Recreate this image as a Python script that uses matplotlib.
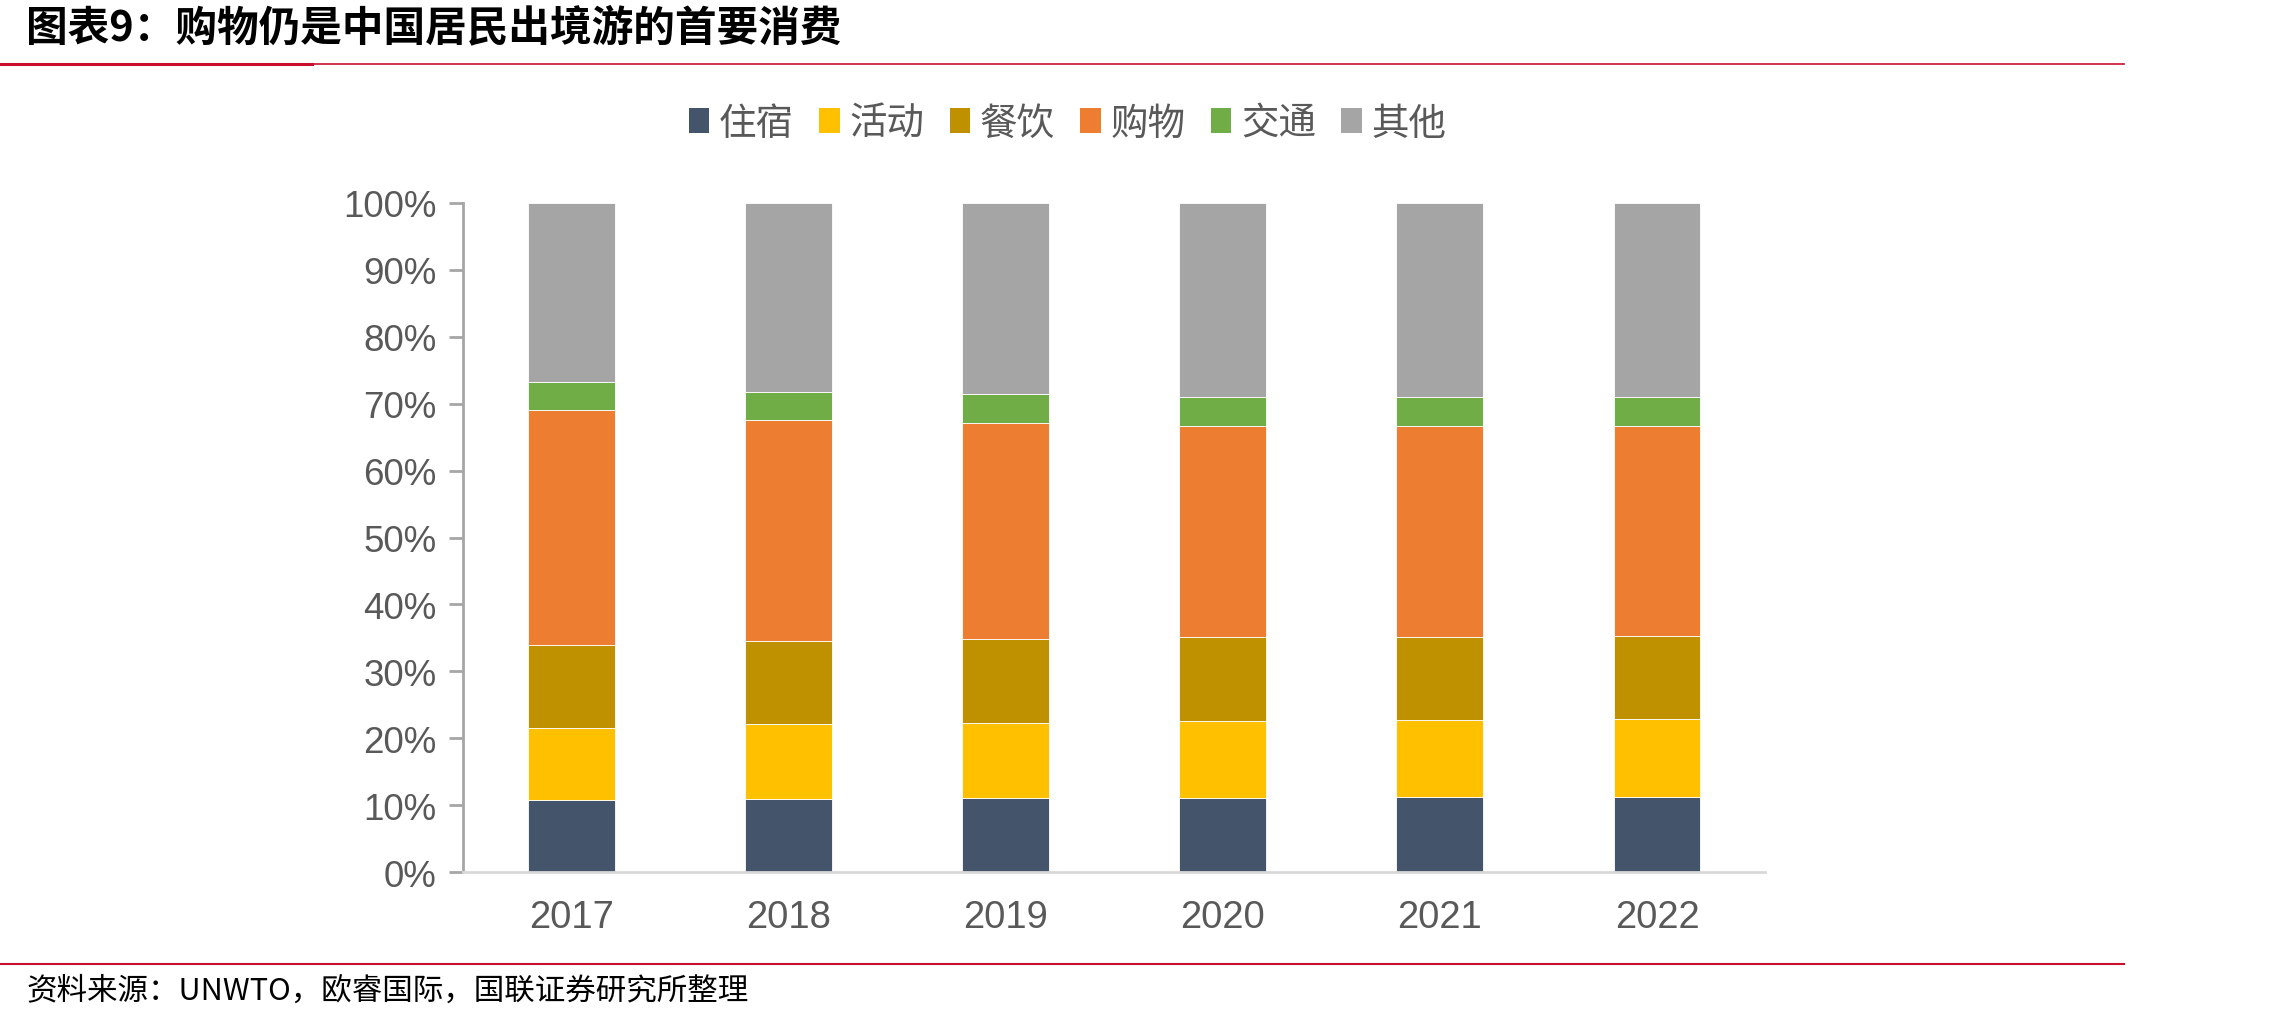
import matplotlib
matplotlib.use("Agg")
import matplotlib.pyplot as plt
import numpy as np
from matplotlib.lines import Line2D
from matplotlib.patches import Patch

years = ["2017", "2018", "2019", "2020", "2021", "2022"]
categories = ["住宿", "活动", "餐饮", "购物", "交通", "其他"]
lodging = [10.8, 11.0, 11.1, 11.1, 11.2, 11.2]
activity = [10.7, 11.1, 11.2, 11.5, 11.5, 11.7]
dining = [12.5, 12.4, 12.6, 12.5, 12.4, 12.4]
shopping = [35.0, 33.0, 32.2, 31.5, 31.5, 31.3]
transport = [4.2, 4.2, 4.3, 4.4, 4.4, 4.4]
other = [26.8, 28.3, 28.6, 29.0, 29.0, 29.0]
colors = ["#44546A", "#FFC000", "#BF9000", "#ED7D31", "#70AD47", "#A5A5A5"]

cjk = ["Noto Sans CJK SC", "DejaVu Sans"]
num_font = ["Liberation Sans", "Noto Sans CJK SC"]
plt.rcParams["font.family"] = cjk

fig = plt.figure(figsize=(22.81, 10.20), dpi=100)
ax = fig.add_axes([0.203, 0.144, 0.571, 0.656])

series = [lodging, activity, dining, shopping, transport, other]
x = np.arange(len(years))
bottom = np.zeros(len(years))
for name, vals, c in zip(categories, series, colors):
    v = np.array(vals) / 100.0
    ax.bar(x, v, 0.4, bottom=bottom, color=c, edgecolor="white", linewidth=0.6, label=name)
    bottom += v

ax.set_xlim(-0.5, len(years) - 0.5)
ax.set_ylim(0, 1.0)
ax.set_yticks(np.arange(0, 1.01, 0.1))
ax.set_yticklabels([f"{int(round(t * 100))}%" for t in np.arange(0, 1.01, 0.1)],
                   family=num_font, fontsize=26.5, color="#595959")
ax.set_xticks(x)
ax.set_xticklabels(years, family=num_font, fontsize=27.5, color="#595959")
ax.tick_params(axis="y", length=10, width=2, color="#A6A6A6", pad=9)
ax.tick_params(axis="x", length=0, pad=19)
for s in ["top", "right"]:
    ax.spines[s].set_visible(False)
ax.spines["left"].set_color("#A6A6A6")
ax.spines["left"].set_linewidth(2)
ax.spines["bottom"].set_color("#D9D9D9")
ax.spines["bottom"].set_linewidth(2)

handles = [Patch(facecolor=c, edgecolor="none") for c in colors]
fig.legend(handles, categories, loc="center", bbox_to_anchor=(0.468, 0.878), ncol=6,
           frameon=False, fontsize=27, handlelength=0.55, handleheight=0.65,
           handletextpad=0.25, columnspacing=0.68, labelcolor="#595959")

fig.text(0.0115, 0.972, "图表9：购物仍是中国居民出境游的首要消费", fontsize=30,
         fontweight="heavy", ha="left", va="center", color="black")
fig.add_artist(Line2D([0, 0.137], [0.936, 0.936], color="#C8102E", linewidth=2.2,
                      transform=fig.transFigure))
fig.add_artist(Line2D([0.137, 0.931], [0.936, 0.936], color="#C8102E", linewidth=1.2,
                      transform=fig.transFigure))
fig.add_artist(Line2D([0, 0.931], [0.054, 0.054], color="#C8102E", linewidth=1.5,
                      transform=fig.transFigure))
fig.text(0.0115, 0.028, "资料来源：UNWTO，欧睿国际，国联证券研究所整理", fontsize=22,
         ha="left", va="center", color="black")

fig.savefig("out.png", dpi=100)
